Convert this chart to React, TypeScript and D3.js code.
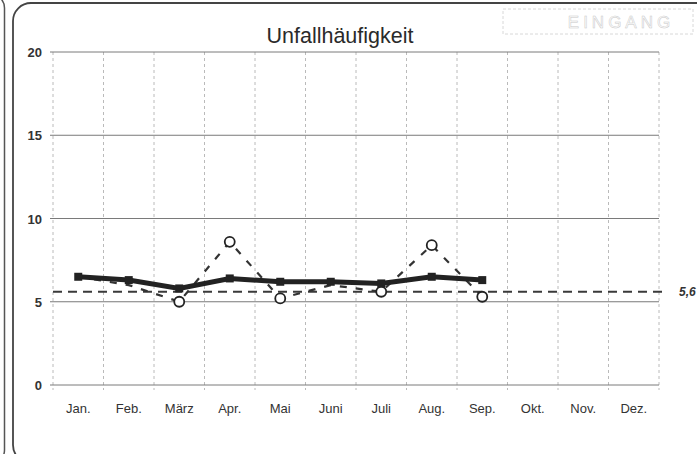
import React, { useEffect, useRef } from 'react'
import * as d3 from 'd3'

const months = ['Jan.', 'Feb.', 'März', 'Apr.', 'Mai', 'Juni', 'Juli', 'Aug.', 'Sep.', 'Okt.', 'Nov.', 'Dez.']
// thick line with squares (running average)
const averageValues = [6.5, 6.3, 5.8, 6.4, 6.2, 6.2, 6.1, 6.5, 6.3]
// dashed line with open circles (monthly values)
const monthlyValues = [6.5, 6.0, 5.0, 8.6, 5.2, 6.0, 5.6, 8.4, 5.3]
const referenceValue = 5.6
const referenceLabel = '5,6'
const yTicks = [0, 5, 10, 15, 20]

export default function App() {
  const svgRef = useRef<SVGSVGElement>(null)
  const width = 697
  const height = 454

  useEffect(() => {
    if (!svgRef.current) return
    document.body.style.margin = '0'

    const svg = d3.select(svgRef.current)
    svg.selectAll('*').remove()

    const font = 'Liberation Sans, Arial, sans-serif'
    const margin = { top: 52, right: 38, bottom: 69, left: 53 }
    const innerWidth = width - margin.left - margin.right
    const innerHeight = height - margin.top - margin.bottom

    svg.append('rect').attr('width', width).attr('height', height).attr('fill', '#fff')

    // frames from the scanned page
    svg.append('rect')
      .attr('x', -100).attr('y', -6).attr('width', 104.5).attr('height', 470)
      .attr('rx', 14)
      .attr('fill', 'none').attr('stroke', '#555').attr('stroke-width', 1.5)
    svg.append('rect')
      .attr('x', 13).attr('y', 3).attr('width', 720).attr('height', 460)
      .attr('rx', 18)
      .attr('fill', 'none').attr('stroke', '#444').attr('stroke-width', 1.8)

    // stamp
    svg.append('rect')
      .attr('x', 503).attr('y', 9).attr('width', 190).attr('height', 25)
      .attr('fill', 'none').attr('stroke', '#d8d8d8').attr('stroke-width', 1)
      .attr('stroke-dasharray', '3 2')
    svg.append('text')
      .attr('x', 621).attr('y', 28)
      .attr('text-anchor', 'middle')
      .attr('font-family', font).attr('font-size', 17)
      .attr('letter-spacing', 4)
      .attr('fill', 'none').attr('stroke', '#c8c8c8').attr('stroke-width', 0.5)
      .text('EINGANG')

    // title
    svg.append('text')
      .attr('x', 340).attr('y', 43)
      .attr('text-anchor', 'middle')
      .attr('font-family', font).attr('font-size', 21.5)
      .attr('fill', '#2a2a2a')
      .text('Unfallhäufigkeit')

    const xScale = d3.scaleBand<string>()
      .domain(months)
      .range([0, innerWidth])

    const yScale = d3.scaleLinear()
      .domain([0, 20])
      .range([innerHeight, 0])

    const g = svg.append('g')
      .attr('transform', `translate(${margin.left},${margin.top})`)

    // vertical grid at band boundaries
    const bounds = months.map(m => xScale(m) as number).concat([innerWidth])
    g.selectAll('.vgrid')
      .data(bounds)
      .enter()
      .append('line')
      .attr('class', 'vgrid')
      .attr('x1', d => d).attr('x2', d => d)
      .attr('y1', 0).attr('y2', innerHeight + 5)
      .attr('stroke', '#a8a8a8')
      .attr('stroke-width', 0.8)
      .attr('stroke-dasharray', '3 3')

    // horizontal grid
    g.selectAll('.hgrid')
      .data(yTicks)
      .enter()
      .append('line')
      .attr('class', 'hgrid')
      .attr('x1', -3).attr('x2', innerWidth)
      .attr('y1', d => yScale(d)).attr('y2', d => yScale(d))
      .attr('stroke', '#7a7a7a')
      .attr('stroke-width', 1)

    // y labels
    g.selectAll('.ylabel')
      .data(yTicks)
      .enter()
      .append('text')
      .attr('class', 'ylabel')
      .attr('x', -11)
      .attr('y', d => yScale(d) + 5)
      .attr('text-anchor', 'end')
      .attr('font-family', font).attr('font-size', 13).attr('font-weight', 'bold')
      .attr('fill', '#333')
      .text(d => d)

    // x labels
    g.selectAll('.xlabel')
      .data(months)
      .enter()
      .append('text')
      .attr('class', 'xlabel')
      .attr('x', d => (xScale(d) as number) + xScale.bandwidth() / 2)
      .attr('y', innerHeight + 28)
      .attr('text-anchor', 'middle')
      .attr('font-family', font).attr('font-size', 13)
      .attr('fill', '#333')
      .text(d => d)

    // reference line
    g.append('line')
      .attr('x1', 0).attr('x2', innerWidth + 6)
      .attr('y1', yScale(referenceValue)).attr('y2', yScale(referenceValue))
      .attr('stroke', '#3a3a3a')
      .attr('stroke-width', 1.8)
      .attr('stroke-dasharray', '9 6')
    g.append('text')
      .attr('x', innerWidth + 20)
      .attr('y', yScale(referenceValue) + 4)
      .attr('font-family', font).attr('font-size', 12)
      .attr('font-weight', 'bold').attr('font-style', 'italic')
      .attr('fill', '#333')
      .text(referenceLabel)

    const cx = (i: number) => (xScale(months[i]) as number) + xScale.bandwidth() / 2

    // dashed monthly line
    const lineMonthly = d3.line<number>()
      .x((_, i) => cx(i))
      .y(d => yScale(d))
    g.append('path')
      .datum(monthlyValues)
      .attr('fill', 'none')
      .attr('stroke', '#333')
      .attr('stroke-width', 2.2)
      .attr('stroke-dasharray', '7 9')
      .attr('d', lineMonthly)

    // thick average line
    const lineAvg = d3.line<number>()
      .x((_, i) => cx(i))
      .y(d => yScale(d))
    g.append('path')
      .datum(averageValues)
      .attr('fill', 'none')
      .attr('stroke', '#222')
      .attr('stroke-width', 5)
      .attr('d', lineAvg)

    g.selectAll('.sq')
      .data(averageValues)
      .enter()
      .append('rect')
      .attr('class', 'sq')
      .attr('x', (_, i) => cx(i) - 4)
      .attr('y', d => yScale(d) - 4)
      .attr('width', 8).attr('height', 8)
      .attr('fill', '#222')

    g.selectAll('.circ')
      .data(monthlyValues)
      .enter()
      .append('circle')
      .attr('class', 'circ')
      .attr('cx', (_, i) => cx(i))
      .attr('cy', d => yScale(d))
      .attr('r', 5)
      .attr('fill', '#fff')
      .attr('stroke', '#222')
      .attr('stroke-width', 1.8)
      .attr('display', (_, i) => [0, 1, 5].includes(i) ? 'none' : null)
  }, [])

  return <svg ref={svgRef} width={width} height={height} style={{ display: 'block' }} />
}
